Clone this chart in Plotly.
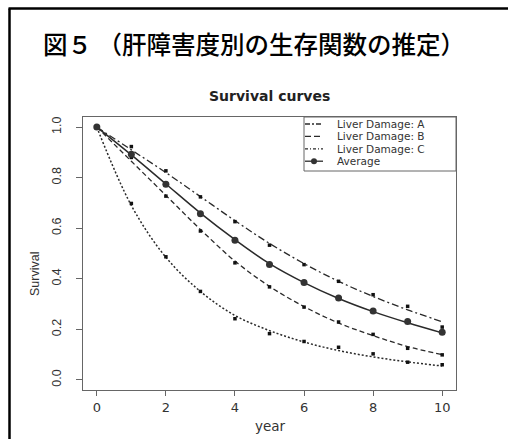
import plotly.graph_objects as go

# ---- data ----
years = [0, 1, 2, 3, 4, 5, 6, 7, 8, 9, 10]

# observed points
obs_A = [1.0, 0.923, 0.827, 0.724, 0.626, 0.533, 0.456, 0.390, 0.337, 0.291, 0.209]
obs_B = [1.0, 0.880, 0.727, 0.589, 0.463, 0.368, 0.288, 0.229, 0.180, 0.125, 0.099]
obs_C = [1.0, 0.698, 0.487, 0.350, 0.242, 0.183, 0.152, 0.129, 0.103, 0.070, 0.060]
obs_avg = [1.0, 0.893, 0.774, 0.657, 0.552, 0.456, 0.385, 0.324, 0.273, 0.231, 0.188]

# fitted (smooth) curves, read at each year
fit_A = [1.0, 0.910, 0.820, 0.725, 0.630, 0.540, 0.460, 0.390, 0.330, 0.277, 0.230]
fit_B = [1.0, 0.865, 0.730, 0.595, 0.470, 0.370, 0.290, 0.225, 0.175, 0.132, 0.100]
fit_C = [1.0, 0.690, 0.485, 0.350, 0.255, 0.195, 0.150, 0.116, 0.091, 0.071, 0.055]
fit_avg = [1.0, 0.890, 0.775, 0.660, 0.555, 0.460, 0.385, 0.322, 0.270, 0.226, 0.186]

x_ticks = [0, 2, 4, 6, 8, 10]
y_ticks = [0.0, 0.2, 0.4, 0.6, 0.8, 1.0]
y_ticktext = ["0.0", "0.2", "0.4", "0.6", "0.8", "1.0"]
legend_labels = ["Liver Damage: A", "Liver Damage: B", "Liver Damage: C", "Average"]

main_title = "図５ （肝障害度別の生存関数の推定）"
plot_title = "Survival curves"
x_title = "year"
y_title = "Survival"

# ---- layout geometry (pixels) ----
W, H = 508, 439
L, R, T, B = 83, 456, 117, 390


def px(x):
    return (x - L) / (R - L)


def py(y):
    return (B - y) / (B - T)


LINE = "#2a2a2a"
styles = {
    "A": dict(dash="7px,3px,2px,3px", width=1.3),
    "B": dict(dash="5px,3px", width=1.3),
    "C": dict(dash="2px,2px", width=1.5),
    "avg": dict(dash="solid", width=1.5),
}

fig = go.Figure()

for fit, key in [(fit_A, "A"), (fit_B, "B"), (fit_C, "C"), (fit_avg, "avg")]:
    fig.add_trace(go.Scatter(
        x=years, y=fit, mode="lines", line_shape="spline",
        line=dict(color=LINE, width=styles[key]["width"], dash=styles[key]["dash"]),
        showlegend=False, hoverinfo="skip"))

for obs in [obs_A, obs_B, obs_C]:
    fig.add_trace(go.Scatter(
        x=years, y=obs, mode="markers",
        marker=dict(symbol="square", size=3.5, color="#111"),
        showlegend=False))

fig.add_trace(go.Scatter(
    x=years, y=obs_avg, mode="markers",
    marker=dict(symbol="circle", size=7, color="#333", line=dict(width=0)),
    showlegend=False))

shapes = []
annotations = []

# outer frame (left + top)
shapes.append(dict(type="line", xref="paper", yref="paper",
                   x0=px(9.5), x1=px(9.5), y0=py(445), y1=py(8.5),
                   line=dict(color="black", width=2.5)))
shapes.append(dict(type="line", xref="paper", yref="paper",
                   x0=px(8.5), x1=px(512), y0=py(8.5), y1=py(8.5),
                   line=dict(color="black", width=2.5)))

# legend box
shapes.append(dict(type="rect", xref="paper", yref="paper",
                   x0=px(304), x1=px(456), y0=py(171), y1=py(117),
                   line=dict(color="#666", width=1), fillcolor="white", layer="above"))
rows = [124.0, 136.4, 148.8, 161.2]
keys = ["A", "B", "C", "avg"]
legend_dash = {"A": "5px,2px,2px,2px", "B": "6px,3px", "C": "3px,2px,1px,2px", "avg": "solid"}
for label, yy, k in zip(legend_labels, rows, keys):
    shapes.append(dict(type="line", xref="paper", yref="paper",
                       x0=px(305), x1=px(323), y0=py(yy), y1=py(yy),
                       line=dict(color=LINE, width=1.3, dash=legend_dash[k]), layer="above"))
    annotations.append(dict(x=px(336), y=py(yy), xref="paper", yref="paper",
                            text=label, showarrow=False, xanchor="left", yanchor="middle",
                            font=dict(family="DejaVu Sans", size=10.5, color="#333"),
                            borderpad=0))
shapes.append(dict(type="circle", xref="paper", yref="paper",
                   xsizemode="pixel", ysizemode="pixel",
                   xanchor=px(314), yanchor=py(rows[3]),
                   x0=-3, x1=3, y0=-3, y1=3,
                   fillcolor="#333", line=dict(width=0), layer="above"))

# titles
annotations.append(dict(x=px(41), y=py(43), xref="paper", yref="paper",
                        text=main_title, showarrow=False, xanchor="left", yanchor="middle",
                        font=dict(family="Noto Sans CJK JP", size=24.5, color="black",
                                  weight=500)))
annotations.append(dict(x=px(269), y=py(96), xref="paper", yref="paper",
                        text=plot_title, showarrow=False, xanchor="center", yanchor="middle",
                        font=dict(family="DejaVu Sans", size=14, color="#222", weight="bold")))
annotations.append(dict(x=px(270), y=py(426), xref="paper", yref="paper",
                        text=x_title, showarrow=False, xanchor="center", yanchor="middle",
                        font=dict(family="DejaVu Sans", size=13.5, color="#333")))
annotations.append(dict(x=px(35), y=py(274), xref="paper", yref="paper",
                        text=y_title, showarrow=False, xanchor="center", yanchor="middle",
                        textangle=-90,
                        font=dict(family="Liberation Sans", size=12.5, color="#333")))

fig.update_layout(
    width=W, height=H, autosize=False,
    margin=dict(l=L, r=W - R, t=T, b=H - B, pad=0),
    paper_bgcolor="white", plot_bgcolor="white",
    showlegend=False,
    shapes=shapes, annotations=annotations,
    xaxis=dict(range=[-0.4, 10.4], tickvals=x_ticks, showgrid=False, zeroline=False,
               showline=True, mirror=True, linecolor="#666", linewidth=1,
               ticks="outside", ticklen=5, tickcolor="#666", tickwidth=1,
               tickfont=dict(family="DejaVu Sans", size=13, color="#333")),
    yaxis=dict(range=[-0.04, 1.04], tickvals=y_ticks, ticktext=y_ticktext,
               showgrid=False, zeroline=False,
               showline=True, mirror=True, linecolor="#666", linewidth=1,
               ticks="outside", ticklen=6, tickcolor="#666", tickwidth=1,
               tickangle=-90, ticklabelstandoff=10,
               tickfont=dict(family="Liberation Sans", size=12.5, color="#333")),
)

fig.write_html("out.html")
